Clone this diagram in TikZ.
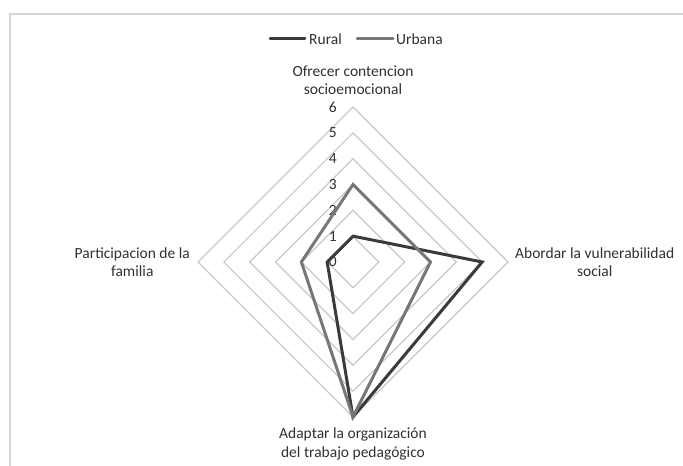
\documentclass[tikz,border=0pt]{standalone}
\usepackage{fontspec}
\setmainfont{Carlito}
\usetikzlibrary{positioning}
\definecolor{gridgray}{HTML}{C8C8C8}
\definecolor{framegray}{HTML}{D4D4D4}
\definecolor{ruralc}{HTML}{3A3A3A}
\definecolor{urbanac}{HTML}{777777}
\definecolor{textc}{HTML}{303030}
\def\unitr{25.83}

\begin{document}
\begin{tikzpicture}[x=1pt, y=1pt, text=textc,
    font=\fontsize{15.5}{18.5}\selectfont,
    ring/.style={draw=gridgray, line width=1.2pt},
    serie/.style={line width=3pt},
    axlabel/.style={align=center, inner sep=0pt},
    ticklabel/.style={inner sep=0pt},
    legline/.style={line width=3pt, line cap=round}]
        \useasboundingbox (0,0) rectangle (683,466);
        %
        \draw[framegray, line width=2pt] (9.5,0) -- (9.5,452) -- (683,452);
        %
        \coordinate (c) at (353,204);
        \begin{scope}[shift={(c)}]
        \foreach \k in {1,...,6} {
            \coordinate (t\k) at (90:\k*\unitr);
            \coordinate (r\k) at (0:\k*\unitr);
            \coordinate (b\k) at (-90:\k*\unitr);
            \coordinate (l\k) at (180:\k*\unitr);
            \draw[ring] (t\k) -- (r\k) -- (b\k) -- (l\k) -- cycle;
        }
        \foreach \v [count=\i] in {1,5,6,1}
            \coordinate (ru\i) at (180-90*\i:\v*\unitr);
        \foreach \v [count=\i] in {3,3,6,2}
            \coordinate (ur\i) at (180-90*\i:\v*\unitr);
        \end{scope}
        %
        \node [ticklabel, left=16pt of c] (n0) {0};
        \foreach \k in {1,...,6}
            \node [ticklabel, left=16pt of t\k] (n\k) {\k};
        %
        \draw[serie, ruralc] (ru1) -- (ru2) -- (ru3) -- (ru4) -- cycle;
        \draw[serie, urbanac] (ur1) -- (ur2) -- (ur3) -- (ur4) -- cycle;
        %
        \node [axlabel, above=12pt of t6] (ofrecer) {Ofrecer contencion\\socioemocional};
        \node [axlabel, right=7pt of r6] (abordar) {Abordar la vulnerabilidad\\social};
        \node [axlabel, below=11pt of b6] (adaptar) {Adaptar la organización\\del trabajo pedagógico};
        \node [axlabel, left=8pt of l6] (particip) {Participacion de la\\familia};
        %
        \coordinate (lg1) at (270,427);
        \coordinate [right=35pt of lg1] (lg2);
        \node [ticklabel, right=4pt of lg2] (rural) {Rural};
        \coordinate [right=15pt of rural] (lg3);
        \coordinate [right=36pt of lg3] (lg4);
        \node [ticklabel, right=3pt of lg4] (urbana) {Urbana};
        \draw[legline, ruralc] (lg1) -- (lg2);
        \draw[legline, urbanac] (lg3) -- (lg4);
\end{tikzpicture}
\end{document}
